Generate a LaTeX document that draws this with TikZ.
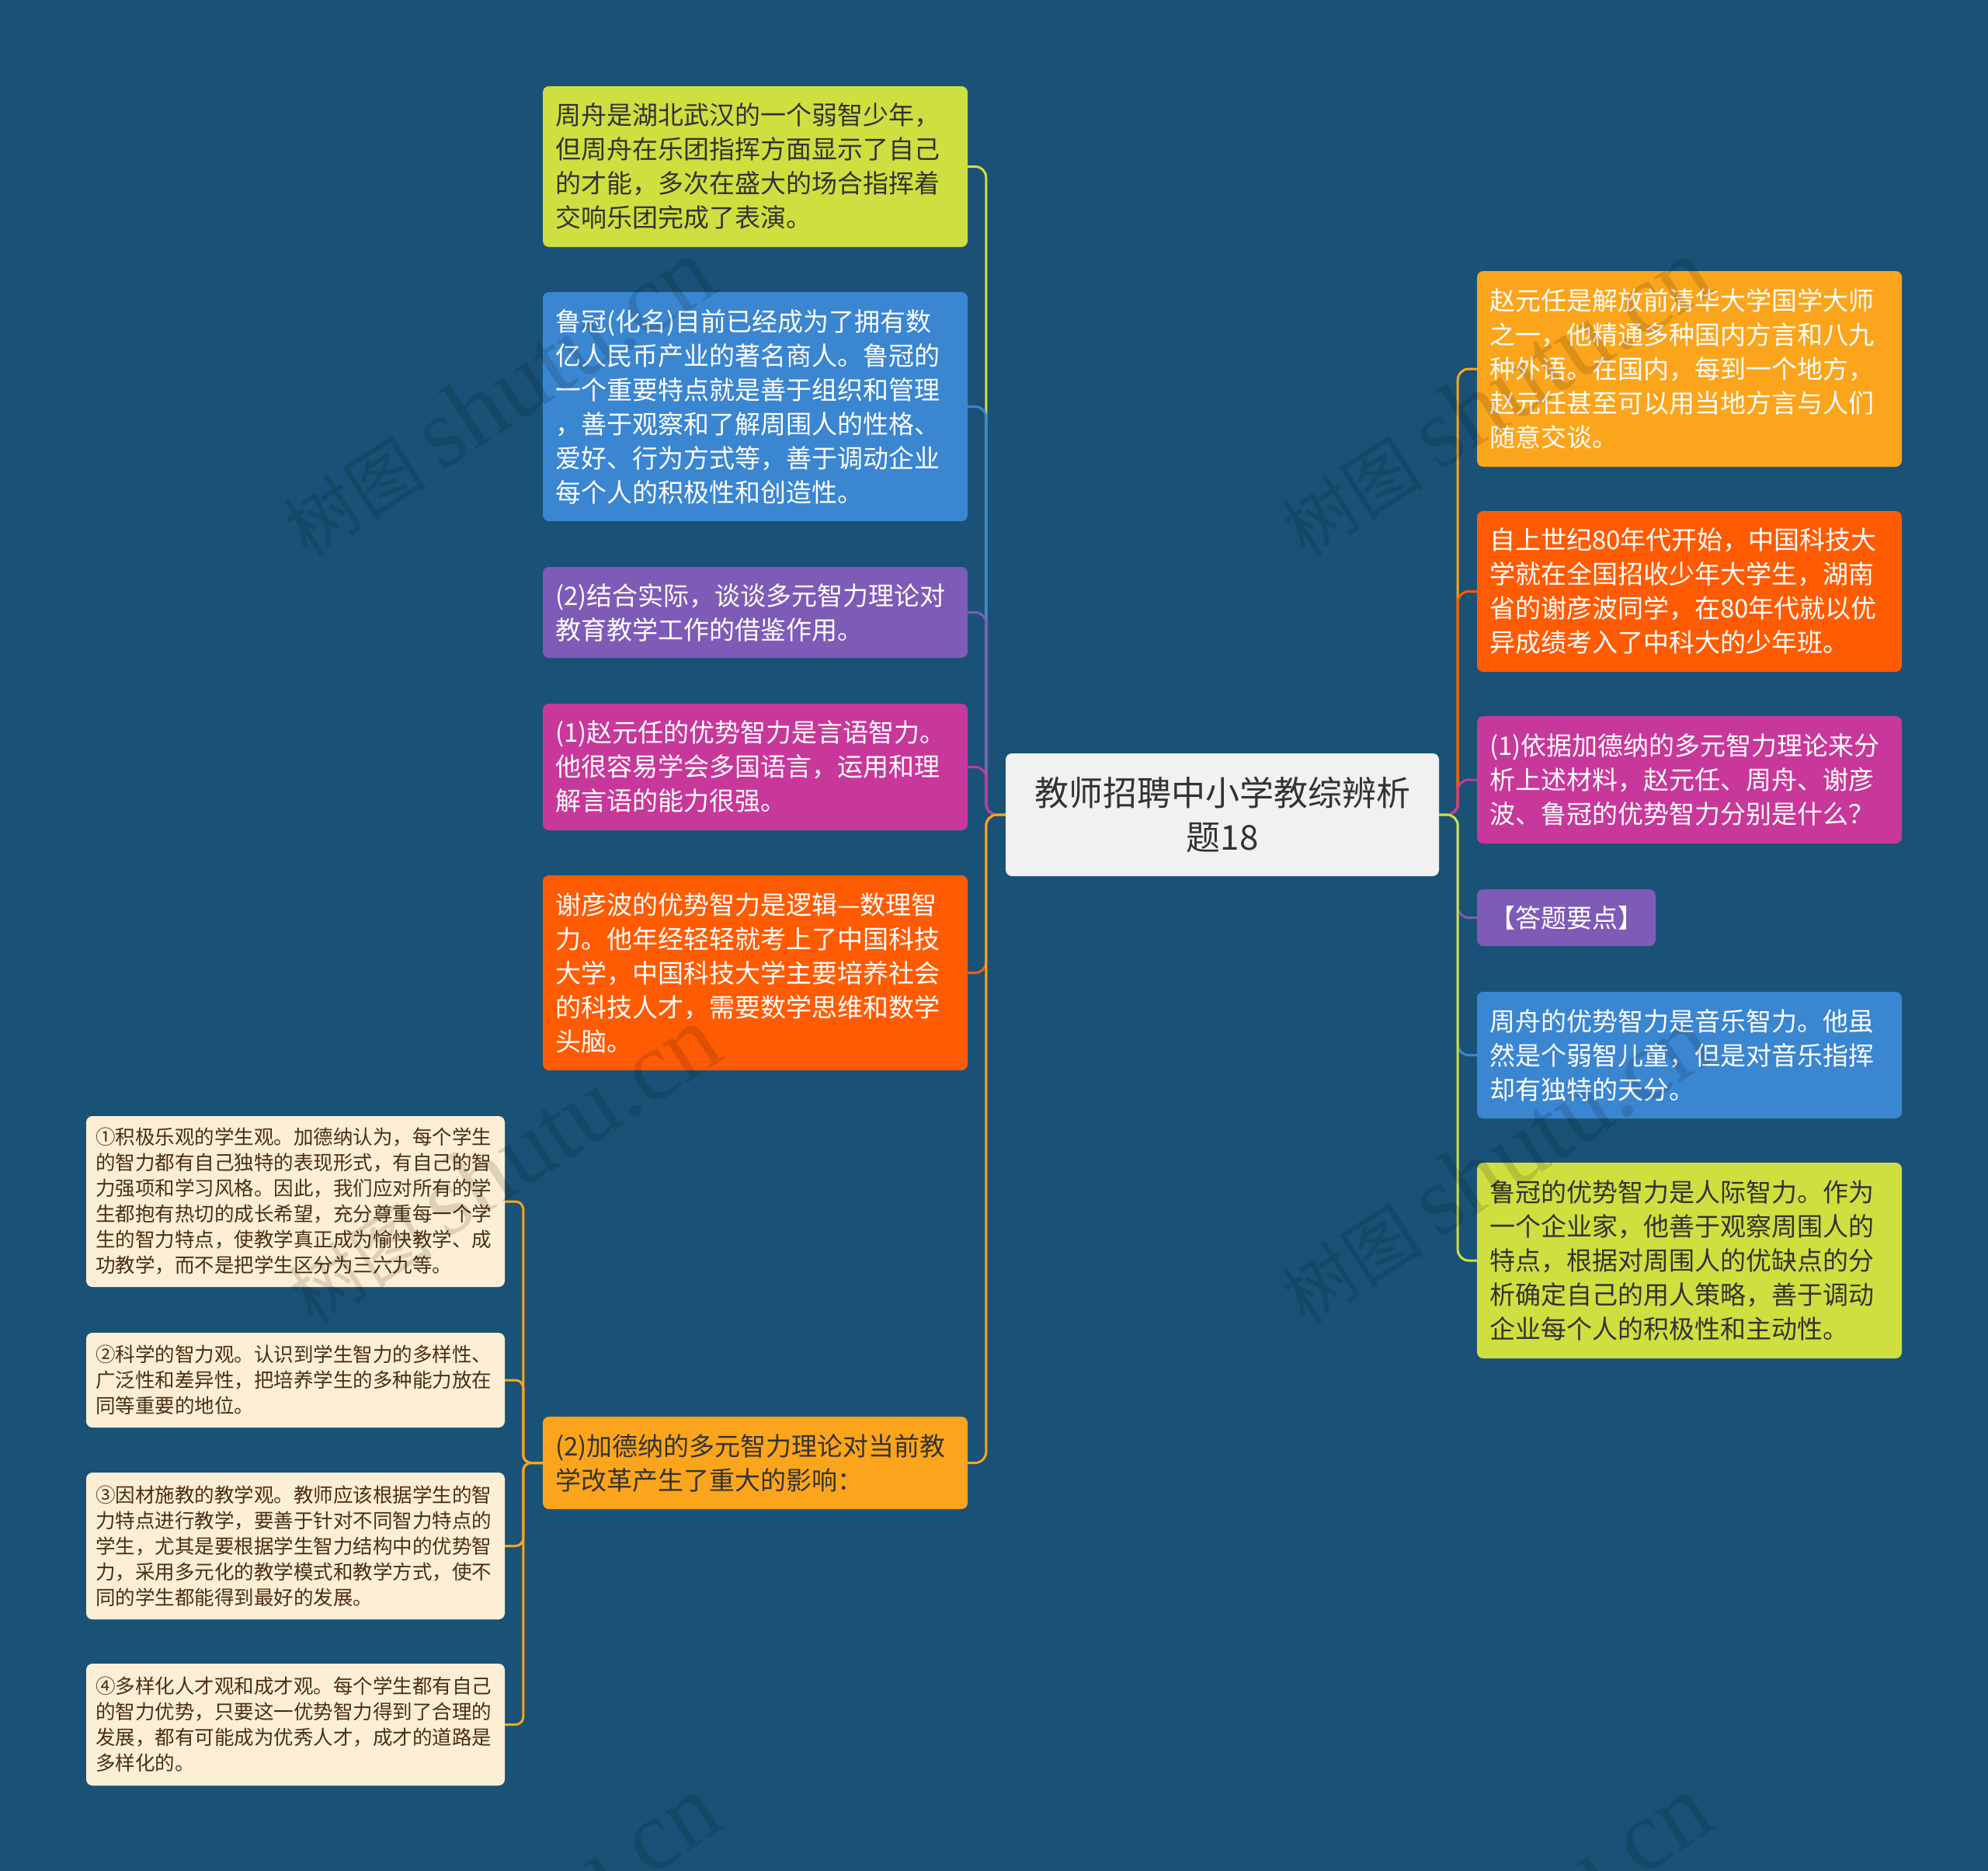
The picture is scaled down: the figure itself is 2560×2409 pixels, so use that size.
\documentclass[tikz,border=0pt]{standalone}
\usepackage{fontspec}
\setmainfont{Noto Sans CJK SC}
\newfontfamily\wmfont{Liberation Serif}
\definecolor{bgc}{HTML}{195276}
\definecolor{clime}{HTML}{CFDF40}
\definecolor{cblue}{HTML}{3A86D1}
\definecolor{cpurple}{HTML}{7E5BB6}
\definecolor{cmag}{HTML}{C8389B}
\definecolor{corange}{HTML}{FF5B03}
\definecolor{cyell}{HTML}{FBA51C}
\definecolor{cctr}{HTML}{F1F1F1}
\definecolor{ccream}{HTML}{FDEFD5}
\definecolor{tdark}{HTML}{333333}
\definecolor{tbrown}{HTML}{4B2E12}
\tikzset{
  box/.style={rounded corners=8pt, inner xsep=16pt, inner ysep=0pt,
    text width=515pt, align=left, font=\fontsize{33}{44}\selectfont},
  sbox/.style={rounded corners=8pt, inner xsep=12pt, inner ysep=0pt,
    text width=515pt, align=left, fill=ccream, text=tbrown,
    font=\fontsize{25.5}{33}\selectfont},
  conn/.style={line width=3pt, rounded corners=14pt},
  wm/.style={text=black, opacity=0.13, font=\fontsize{92}{96}\selectfont, rotate=33},
}
\begin{document}
\begin{tikzpicture}[x=1pt,y=-1pt]
\useasboundingbox (0,0) rectangle (2560,2409);
\fill[bgc] (0,0) rectangle (2560,2409);

% center
\node[rounded corners=8pt, fill=cctr, text=tdark, text width=520pt, inner xsep=19pt,
  inner ysep=0pt, align=center, minimum height=158pt,
  font=\fontsize{44}{57}\selectfont] (ctr) at (1574,1049)
  {教师招聘中小学教综辨析\\题18};

% left nodes
\node[box, fill=clime, text=tdark, minimum height=207pt] (l1) at (972.5,214.5)
{周舟是湖北武汉的一个弱智少年，\\但周舟在乐团指挥方面显示了自己\\的才能，多次在盛大的场合指挥着\\交响乐团完成了表演。};
\node[box, fill=cblue, text=white, minimum height=295pt] (l2) at (972.5,523.5)
{鲁冠(化名)目前已经成为了拥有数\\亿人民币产业的著名商人。鲁冠的\\一个重要特点就是善于组织和管理\\，善于观察和了解周围人的性格、\\爱好、行为方式等，善于调动企业\\每个人的积极性和创造性。};
\node[box, fill=cpurple, text=white, minimum height=117pt] (l3) at (972.5,788.5)
{(2)结合实际，谈谈多元智力理论对\\教育教学工作的借鉴作用。};
\node[box, fill=cmag, text=white, minimum height=163pt] (l4) at (972.5,987.5)
{(1)赵元任的优势智力是言语智力。\\他很容易学会多国语言，运用和理\\解言语的能力很强。};
\node[box, fill=corange, text=white, minimum height=251pt] (l5) at (972.5,1252.5)
{谢彦波的优势智力是逻辑—数理智\\力。他年经轻轻就考上了中国科技\\大学，中国科技大学主要培养社会\\的科技人才，需要数学思维和数学\\头脑。};
\node[box, fill=cyell, text=tdark, minimum height=119pt] (l6) at (972.5,1883.5)
{(2)加德纳的多元智力理论对当前教\\学改革产生了重大的影响：};

% right nodes
\node[box, fill=cyell, text=white, minimum height=252pt] (r1) at (2175.5,475)
{赵元任是解放前清华大学国学大师\\之一，他精通多种国内方言和八九\\种外语。在国内，每到一个地方，\\赵元任甚至可以用当地方言与人们\\随意交谈。};
\node[box, fill=corange, text=white, minimum height=207pt] (r2) at (2175.5,761.5)
{自上世纪80年代开始，中国科技大\\学就在全国招收少年大学生，湖南\\省的谢彦波同学，在80年代就以优\\异成绩考入了中科大的少年班。};
\node[box, fill=cmag, text=white, minimum height=164pt] (r3) at (2175.5,1004)
{(1)依据加德纳的多元智力理论来分\\析上述材料，赵元任、周舟、谢彦\\波、鲁冠的优势智力分别是什么？};
\node[rounded corners=8pt, fill=cpurple, text=white, inner xsep=16pt, inner ysep=0pt,
  minimum height=73pt, font=\fontsize{33}{44}\selectfont] (r4) at (2017,1181.5)
{【答题要点】};
\node[box, fill=cblue, text=white, minimum height=163pt] (r5) at (2175.5,1358.5)
{周舟的优势智力是音乐智力。他虽\\然是个弱智儿童，但是对音乐指挥\\却有独特的天分。};
\node[box, fill=clime, text=tdark, minimum height=252pt] (r6) at (2175.5,1623)
{鲁冠的优势智力是人际智力。作为\\一个企业家，他善于观察周围人的\\特点，根据对周围人的优缺点的分\\析确定自己的用人策略，善于调动\\企业每个人的积极性和主动性。};

% small nodes
\node[sbox, minimum height=220pt] (s1) at (380.5,1547)
{①积极乐观的学生观。加德纳认为，每个学生\\的智力都有自己独特的表现形式，有自己的智\\力强项和学习风格。因此，我们应对所有的学\\生都抱有热切的成长希望，充分尊重每一个学\\生的智力特点，使教学真正成为愉快教学、成\\功教学，而不是把学生区分为三六九等。};
\node[sbox, minimum height=122pt] (s2) at (380.5,1777)
{②科学的智力观。认识到学生智力的多样性、\\广泛性和差异性，把培养学生的多种能力放在\\同等重要的地位。};
\node[sbox, minimum height=189pt] (s3) at (380.5,1990.5)
{③因材施教的教学观。教师应该根据学生的智\\力特点进行教学，要善于针对不同智力特点的\\学生，尤其是要根据学生智力结构中的优势智\\力，采用多元化的教学模式和教学方式，使不\\同的学生都能得到最好的发展。};
\node[sbox, minimum height=157pt] (s4) at (380.5,2220.5)
{④多样化人才观和成才观。每个学生都有自己\\的智力优势，只要这一优势智力得到了合理的\\发展，都有可能成为优秀人才，成才的道路是\\多样化的。};

% connectors left
\foreach \n/\c in {l1/clime, l2/cblue, l3/cpurple, l4/cmag, l5/corange, l6/cyell}
  \draw[conn, \c] (ctr.west) -- ++(-25,0) |- (\n.east);
% connectors right
\foreach \n/\c in {r1/cyell, r2/corange, r3/cmag, r4/cpurple, r5/cblue, r6/clime}
  \draw[conn, \c] (ctr.east) -- ++(24,0) |- (\n.west);
% connectors small
\foreach \n in {s1, s2, s3, s4}
  \draw[conn, cyell, rounded corners=10pt] (l6.west) -- ++(-25,0) |- (\n.east);

% watermarks
\node[wm] (wm1) at (641,512) {树图 {\wmfont\fontsize{128}{130}\selectfont shutu.cn}};
\node[wm] (wm2) at (1925,512) {树图 {\wmfont\fontsize{128}{130}\selectfont shutu.cn}};
\node[wm] (wm3) at (648,1500) {树图 {\wmfont\fontsize{128}{130}\selectfont shutu.cn}};
\node[wm] (wm4) at (1925,1500) {树图 {\wmfont\fontsize{128}{130}\selectfont shutu.cn}};
\node[wm] (wm5) at (648,2490) {树图 {\wmfont\fontsize{128}{130}\selectfont shutu.cn}};
\node[wm] (wm6) at (1925,2490) {树图 {\wmfont\fontsize{128}{130}\selectfont shutu.cn}};
\end{tikzpicture}
\end{document}
